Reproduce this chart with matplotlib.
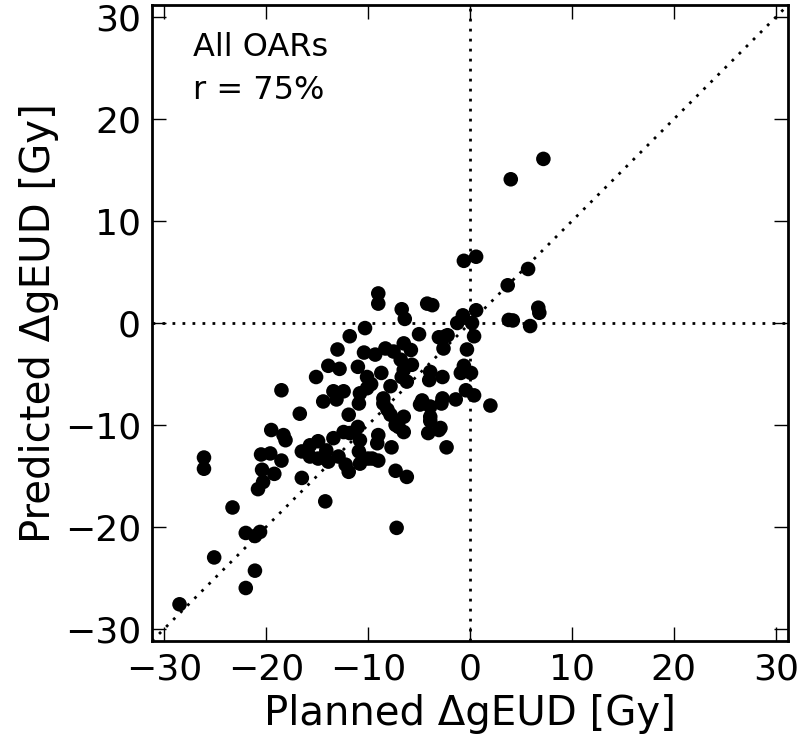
import numpy as np
import matplotlib
matplotlib.use('Agg')
import matplotlib.pyplot as plt

# planned vs predicted delta gEUD
planned = [7.2, 4.0, -0.6, 0.6, 5.7, 3.7, 0.6, 6.7, 6.8, 3.8, 4.2, 5.9, 0.2, -0.7, -1.25,
           0.4, -2.4, -2.6, -0.3, -0.6, 0.1, -0.9, -2.7, -0.4, 0.4, -1.4, -2.7, -2.8, 2.0, -2.9,
           -9.0, -9.0, -6.7, -6.4, -4.2, -3.7, -5.0, -3.05, -2.2, -6.5, -5.8, -8.3, -9.3, -7.5,
           -6.8, -5.7, -8.7, -6.5, -3.9, -4.0, -9.7, -7.8, -6.2, -6.7, -8.5, -4.7,
           -10.3, -11.8, -13.0, -10.4, -13.9, -12.8, -11.0, -10.1, -15.1, -18.5, -13.4, -12.4,
           -10.1, -14.4, -13.1, -10.9, -10.8,
           -16.7, -11.9, -19.5, -18.3, -18.1, -15.7, -14.9, -13.4, -12.4, -11.8, -10.8, -14.1,
           -15.7, -14.9, -13.9, -12.9, -12.2, -11.9, -10.8, -10.9, -10.0, -20.5, -19.6, -18.5,
           -20.4, -19.2, -20.3, -20.8, -16.5, -14.2,
           -8.5, -4.9, -3.9, -7.8, -6.5, -7.3, -6.5, -3.9, -3.9, -3.05, -4.1, -9.0, -2.3, -7.7,
           -9.6, -9.0, -7.3, -6.2, -7.2,
           -26.1, -26.1, -23.3, -22.0, -21.1, -20.6, -25.1, -21.1, -22.0, -28.5,
           -8.1, -7.0, -11.0, -9.1, -16.5]
predicted = [16.1, 14.1, 6.1, 6.5, 5.3, 3.7, 1.25, 1.5, 1.0, 0.3, 0.25, -0.3, 0.0, 0.75, 0.0,
             -1.3, -1.3, -2.5, -2.6, -4.2, -4.9, -4.9, -5.3, -6.6, -7.1, -7.5, -7.4, -7.9, -8.1, -10.3,
             2.9, 1.9, 1.35, 0.4, 1.9, 1.75, -1.1, -1.4, -1.2, -2.0, -2.65, -2.5, -3.1, -2.8,
             -3.6, -4.1, -4.9, -4.6, -4.8, -5.6, -6.0, -6.2, -5.75, -5.3, -7.4, -7.6,
             -0.5, -1.3, -2.6, -2.9, -4.2, -4.5, -4.3, -5.3, -5.3, -6.6, -6.7, -6.7,
             -6.4, -7.7, -7.5, -7.9, -6.9,
             -8.9, -9.0, -10.5, -11.0, -11.5, -12.0, -11.6, -11.3, -10.7, -10.8, -11.5, -12.5,
             -13.1, -13.3, -13.6, -13.1, -13.9, -14.6, -13.8, -12.6, -13.3, -12.9, -12.8, -13.5,
             -14.4, -14.8, -15.6, -16.3, -15.2, -17.5,
             -7.9, -8.0, -8.2, -9.0, -9.2, -10.0, -10.7, -9.2, -9.6, -10.5, -10.8, -11.0, -12.2, -12.2,
             -13.3, -13.5, -14.5, -15.1, -20.1,
             -13.2, -14.3, -18.1, -20.6, -20.9, -20.5, -23.0, -24.3, -26.0, -27.6,
             -8.5, -10.2, -10.2, -11.8, -12.6]
ticks = [-30, -20, -10, 0, 10, 20, 30]
lim = 31.2

fig = plt.figure(figsize=(8, 7.45), dpi=100)
ax = fig.add_axes([0.19, 0.1396, 0.795, 0.8537])

dots = (0, (1, 2.6))
ax.plot([-lim, lim], [-lim, lim], color='black', lw=2, linestyle=dots)
ax.axhline(0, color='black', lw=2, linestyle=dots)
ax.axvline(0, color='black', lw=2, linestyle=dots)
ax.scatter(planned, predicted, s=110, color='black', edgecolors='none', zorder=3)

ax.set_xlim(-lim, lim)
ax.set_ylim(-lim, lim)
ax.set_xticks(ticks)
ax.set_yticks(ticks)
ax.tick_params(direction='in', top=True, right=True, length=10, width=1,
               labelsize=26, pad=8)
for s in ax.spines.values():
    s.set_linewidth(2)

ax.set_xlabel('Planned ΔgEUD [Gy]', fontsize=29, labelpad=6)
ax.set_ylabel('Predicted ΔgEUD [Gy]', fontsize=29, labelpad=4)
ax.text(0.064, 0.957, 'All OARs\nr = 75%', transform=ax.transAxes, fontsize=23,
        va='top', ha='left', linespacing=1.5)

plt.savefig('out.png', dpi=100)
